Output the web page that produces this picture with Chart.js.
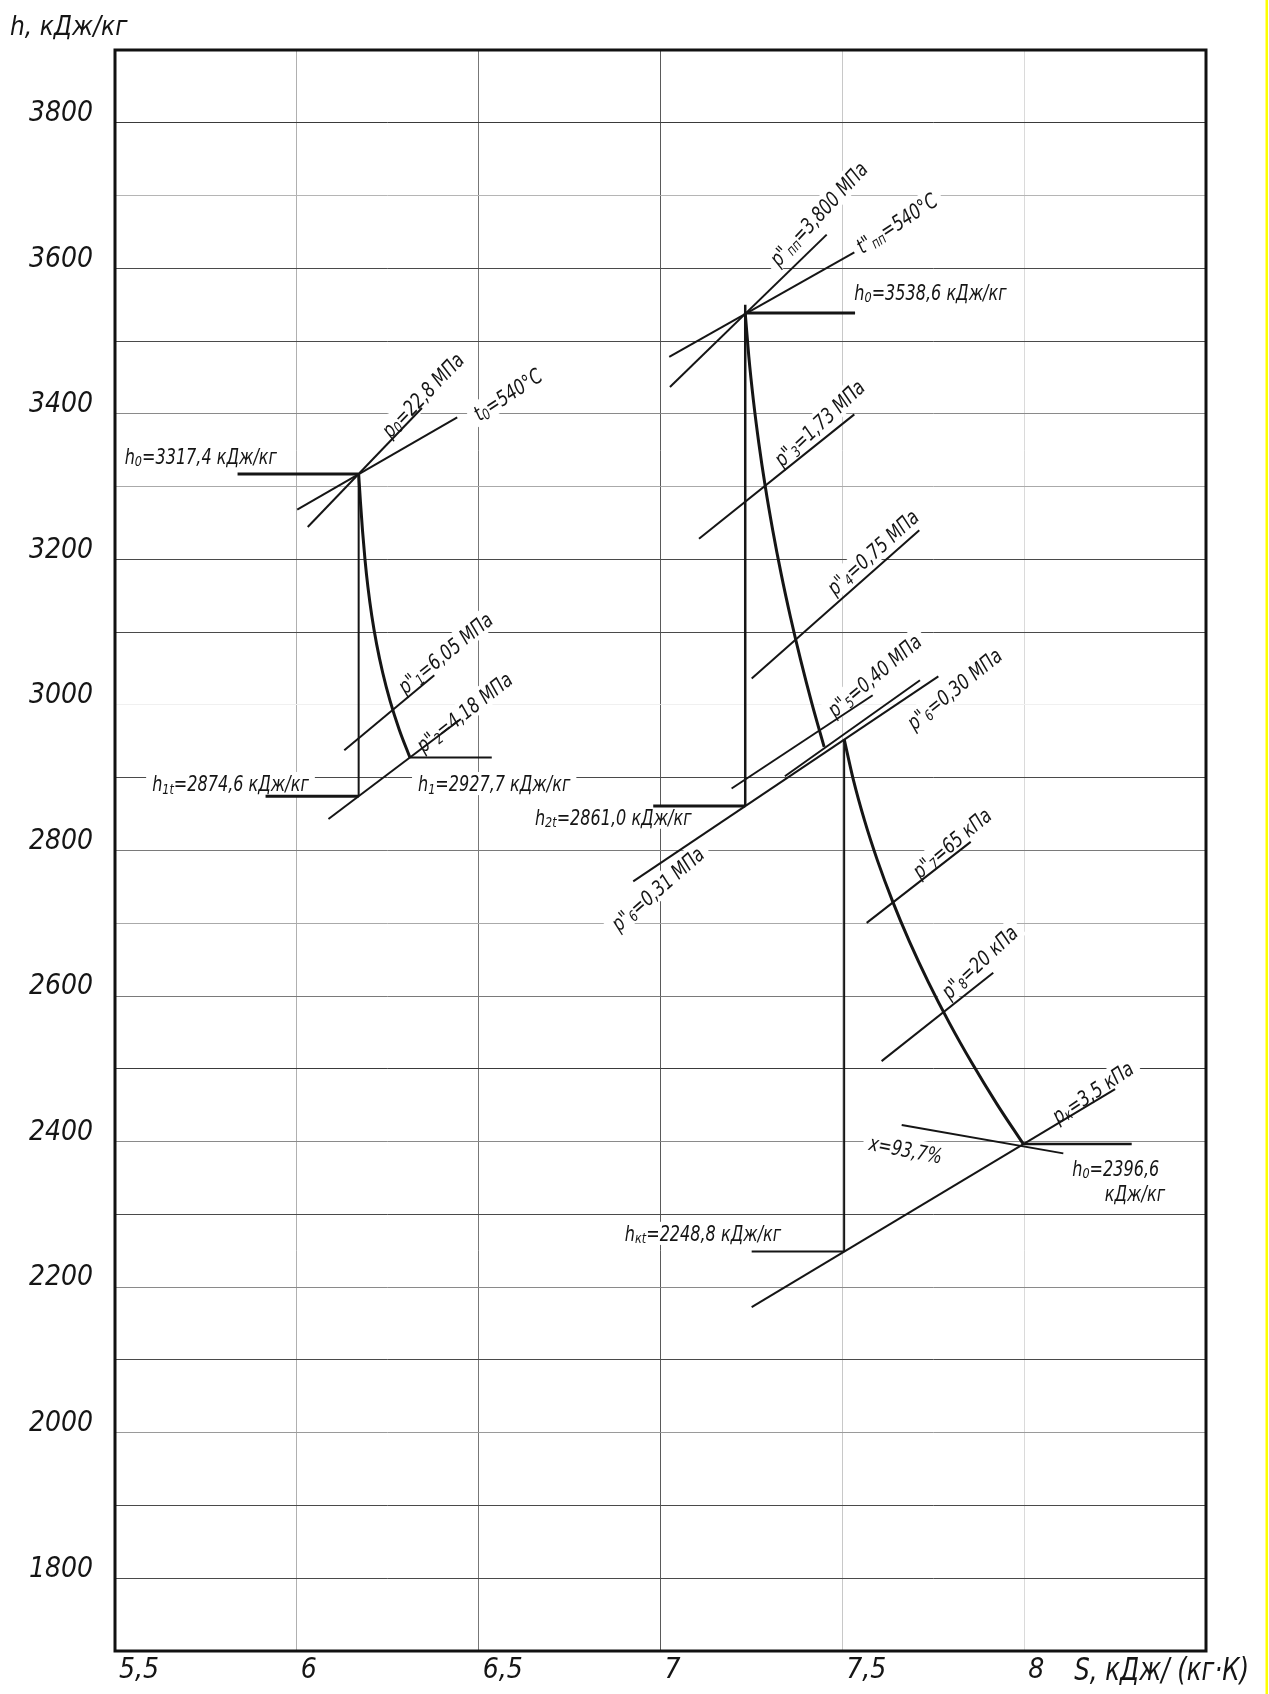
<!DOCTYPE html>
<html lang="ru">
<head>
<meta charset="utf-8">
<title>h,s-диаграмма процесса расширения пара в турбине</title>
<script src="https://cdn.jsdelivr.net/npm/chart.js@4.4.1/dist/chart.umd.min.js"></script>
<style>
  html, body { margin: 0; padding: 0; background: #fff; }
  canvas { display: block; }
</style>
</head>
<body>
<canvas id="hs" width="1269" height="1694"></canvas>
<script>
// Axes: entropy S, kJ/(kg·K) and enthalpy h, kJ/kg
const sTicks = [5.5, 6, 6.5, 7, 7.5, 8];
const hGrid = [1700, 1800, 1900, 2000, 2100, 2200, 2300, 2400, 2500, 2600, 2700,
               2800, 2900, 3000, 3100, 3200, 3300, 3400, 3500, 3600, 3700, 3800];
const hLabels = [1800, 2000, 2200, 2400, 2600, 2800, 3000, 3200, 3400, 3600, 3800];

// HP cylinder: [s, h]
const hpInletH    = [[5.837, 3317.4], [6.17, 3317.4]];
const hpP0        = [[6.03, 3244.6], [6.344, 3408.0]];
const hpT0        = [[6.001, 3268.4], [6.441, 3395.3]];
const hpIsentrope = [[6.17, 3317.4], [6.17, 2874.6]];
const hpTheorH    = [[5.914, 2874.6], [6.17, 2874.6]];
const hpProcess   = [[6.17, 3317.4], [6.175, 3278.4], [6.1806, 3239.5], [6.1873, 3200.5],
                     [6.1956, 3161.5], [6.2061, 3122.6], [6.2194, 3083.6], [6.236, 3044.6],
                     [6.2564, 3005.6], [6.2812, 2966.7], [6.311, 2927.7]];
const hpOutletH   = [[6.311, 2927.7], [6.536, 2927.7]];
const hpP1        = [[6.1305, 2937.8], [6.378, 3040.8]];
const hpP2        = [[6.087, 2843.2], [6.451, 2980.6]];

// IP/LP cylinders after reheat
const rhInletH    = [[7.233, 3538.6], [7.535, 3538.6]];
const rhP         = [[7.026, 3437.0], [7.457, 3646.3]];
const rhT         = [[7.024, 3478.2], [7.533, 3622.0]];
const ipIsentrope = [[7.233, 3550.0], [7.233, 2861.0]];
const ipTheorH    = [[6.980, 2861.0], [7.233, 2861.0]];
const ipP3        = [[7.1059, 3228.3], [7.5329, 3399.3]];
const ipP4        = [[7.2508, 3036.3], [7.7116, 3240.0]];
const ipP5        = [[7.1955, 2885.2], [7.5835, 3013.3]];
const ipP6        = [[7.342, 2902.1], [7.7135, 3033.9]];
const ipP6t       = [[6.925, 2757.6], [7.764, 3039.2]];
const ipProcess   = [[7.233, 3538.6], [7.2428, 3479.0], [7.2553, 3419.3], [7.2704, 3359.7],
                     [7.2881, 3300.1], [7.3085, 3240.5], [7.3315, 3180.8], [7.3572, 3121.2],
                     [7.3855, 3061.6], [7.4164, 3001.9], [7.45, 2942.3]];
const lpProcess   = [[7.505, 2953.0], [7.5302, 2897.4], [7.5608, 2841.7], [7.5967, 2786.1],
                     [7.638, 2730.4], [7.6846, 2674.8], [7.7365, 2619.2], [7.7938, 2563.5],
                     [7.8564, 2507.9], [7.9243, 2452.2], [7.9976, 2396.6]];
const lpIsentrope = [[7.505, 2953.0], [7.505, 2248.8]];
const lpP7        = [[7.567, 2700.5], [7.853, 2811.8]];
const lpP8        = [[7.608, 2510.6], [7.915, 2631.9]];
const condP       = [[7.2507, 2172.5], [8.25, 2472.2]];
const dryness     = [[7.6632, 2422.7], [8.1076, 2383.8]];
const condH       = [[7.9976, 2396.6], [8.2957, 2396.6]];
const condTheorH  = [[7.2507, 2248.8], [7.505, 2248.8]];

// Notes: text parts ([text, isSubscript]), anchor [s, h], rotation in degrees
const notes = [
  { parts: [['h', 0], ['0', 1], ['=3317,4 кДж/кг', 0]], at: [5.736, 3341.6], angle: 0 },
  { parts: [['p', 0], ['0', 1], ['=22,8 МПа', 0]], at: [6.3455, 3426.1], angle: -46 },
  { parts: [['t', 0], ['0', 1], ['=540°C', 0]], at: [6.5793, 3426.9], angle: -33 },
  { parts: [['p"', 0], ['1', 1], ['=6,05 МПа', 0]], at: [6.4074, 3071.7], angle: -39 },
  { parts: [['p"', 0], ['2', 1], ['=4,18 МПа', 0]], at: [6.4602, 2990.4], angle: -38 },
  { parts: [['h', 0], ['1t', 1], ['=2874,6 кДж/кг', 0]], at: [5.8176, 2892], angle: 0 },
  { parts: [['h', 0], ['1', 1], ['=2927,7 кДж/кг', 0]], at: [6.5427, 2892], angle: 0 },
  { parts: [['p"', 0], ['пп', 1], ['=3,800 МПа', 0]], at: [7.434, 3675], angle: -47 },
  { parts: [['t"', 0], ['пп', 1], ['=540°C', 0]], at: [7.6494, 3662.4], angle: -33 },
  { parts: [['h', 0], ['0', 1], ['=3538,6 кДж/кг', 0]], at: [7.7424, 3567.3], angle: 0 },
  { parts: [['p"', 0], ['3', 1], ['=1,73 МПа', 0]], at: [7.4363, 3387.6], angle: -43 },
  { parts: [['p"', 0], ['4', 1], ['=0,75 МПа', 0]], at: [7.583, 3210.2], angle: -42 },
  { parts: [['p"', 0], ['5', 1], ['=0,40 МПа', 0]], at: [7.5876, 3040.8], angle: -40 },
  { parts: [['p"', 0], ['6', 1], ['=0,30 МПа', 0]], at: [7.8076, 3022.4], angle: -39 },
  { parts: [['h', 0], ['2t', 1], ['=2861,0 кДж/кг', 0]], at: [6.8702, 2845.7], angle: 0 },
  { parts: [['p"', 0], ['6', 1], ['=0,31 МПа', 0]], at: [6.9917, 2747.7], angle: -41 },
  { parts: [['p"', 0], ['7', 1], ['=65 кПа', 0]], at: [7.8007, 2810.7], angle: -40 },
  { parts: [['p"', 0], ['8', 1], ['=20 кПа', 0]], at: [7.8764, 2647], angle: -43 },
  { parts: [['p', 0], ['к', 1], ['=3,5 кПа', 0]], at: [8.1879, 2468.4], angle: -34 },
  { parts: [['x=93,7%', 0]], at: [7.6745, 2389.4], angle: 11 },
  { parts: [['h', 0], ['0', 1], ['=2396,6', 0]], at: [8.2519, 2363.2], angle: 0 },
  { parts: [['кДж/кг', 0]], at: [8.3047, 2328.9], angle: 0 },
  { parts: [['h', 0], ['кt', 1], ['=2248,8 кДж/кг', 0]], at: [7.1169, 2273.9], angle: 0 },
];

const FONT = '"Liberation Sans Narrow", "DejaVu Sans Condensed", "Liberation Sans", sans-serif';
const NOTE_SIZE = 21;
const NARROW = 0.85;   // horizontal squeeze for drafting-style lettering
const INK = '#151515';

// grid line shades
const hShade = {
  3800: '#3a3a3a', 3700: '#b5b5b5', 3600: '#4a4a4a', 3500: '#4a4a4a', 3400: '#8a8a8a',
  3300: '#aaaaaa', 3200: '#4a4a4a', 3100: '#4a4a4a', 3000: '#f0f0f0', 2900: '#4a4a4a',
  2800: '#7a7a7a', 2700: '#aaaaaa', 2600: '#7a7a7a', 2500: '#3a3a3a', 2400: '#8a8a8a',
  2300: '#4a4a4a', 2200: '#8a8a8a', 2100: '#4a4a4a', 2000: '#9a9a9a', 1900: '#4a4a4a',
  1800: '#4a4a4a', 1700: '#6a6a6a'
};
const sShade = { 5.5: '#000000', 6: '#b0b0b0', 6.5: '#777777', 7: '#5a5a5a', 7.5: '#c8c8c8', 8: '#dadada' };

const toXY = (arr) => arr.map(([s, h]) => ({ x: s, y: h }));

function seg(data, width, curve) {
  return {
    data: toXY(data),
    showLine: true,
    borderColor: INK,
    borderWidth: width,
    pointRadius: 0,
    cubicInterpolationMode: curve ? 'monotone' : 'default',
    tension: 0,
    borderCapStyle: 'butt',
  };
}

const datasets = [
  seg(hpInletH, 3), seg(hpP0, 2), seg(hpT0, 2), seg(hpIsentrope, 2), seg(hpTheorH, 3),
  seg(hpProcess, 3, true), seg(hpOutletH, 2), seg(hpP1, 2), seg(hpP2, 2),
  seg(rhInletH, 3), seg(rhP, 2), seg(rhT, 2), seg(ipIsentrope, 2.5), seg(ipTheorH, 3),
  seg(ipP3, 2), seg(ipP4, 2), seg(ipP5, 2), seg(ipP6, 2), seg(ipP6t, 2),
  seg(ipProcess, 3, true), seg(lpProcess, 3, true), seg(lpIsentrope, 2),
  seg(lpP7, 2), seg(lpP8, 2), seg(condP, 2), seg(dryness, 2), seg(condH, 2.5), seg(condTheorH, 2),
];

function font(size) { return `italic ${size}px ${FONT}`; }

function richWidth(ctx, parts, size) {
  let w = 0;
  for (const [t, sub] of parts) {
    ctx.font = font(sub ? size * 0.7 : size);
    w += ctx.measureText(t).width;
  }
  return w;
}

function drawRich(ctx, parts, size, x0, y0) {
  let x = x0;
  for (const [t, sub] of parts) {
    ctx.font = font(sub ? size * 0.7 : size);
    ctx.fillText(t, x, y0 + (sub ? size * 0.12 : 0));
    x += ctx.measureText(t).width;
  }
}

function narrowText(ctx, text, size, x, y, squeeze) {
  ctx.save();
  ctx.translate(x, y);
  ctx.scale(squeeze, 1);
  ctx.font = font(size);
  ctx.fillText(text, 0, 0);
  ctx.restore();
}

const notesPlugin = {
  id: 'notes',
  beforeDraw(chart) {
    const { ctx, width, height } = chart;
    ctx.save();
    ctx.fillStyle = '#fff';
    ctx.fillRect(0, 0, width, height);
    ctx.restore();
  },
  // white backing knocks the grid out under each note
  beforeDatasetsDraw(chart) {
    const { ctx, scales: { x, y } } = chart;
    ctx.save();
    ctx.fillStyle = '#fff';
    for (const n of notes) {
      const w = richWidth(ctx, n.parts, NOTE_SIZE) * NARROW;
      ctx.save();
      ctx.translate(x.getPixelForValue(n.at[0]), y.getPixelForValue(n.at[1]));
      ctx.rotate(n.angle * Math.PI / 180);
      ctx.fillRect(-w / 2 - 6, -NOTE_SIZE * 0.55, w + 12, NOTE_SIZE * 1.1);
      ctx.restore();
    }
    ctx.restore();
  },
  afterDatasetsDraw(chart) {
    const { ctx, scales: { x, y } } = chart;
    ctx.save();
    ctx.fillStyle = INK;
    ctx.textAlign = 'left';
    ctx.textBaseline = 'alphabetic';
    for (const n of notes) {
      const w = richWidth(ctx, n.parts, NOTE_SIZE);
      ctx.save();
      ctx.translate(x.getPixelForValue(n.at[0]), y.getPixelForValue(n.at[1]));
      ctx.rotate(n.angle * Math.PI / 180);
      ctx.scale(NARROW, 1);
      drawRich(ctx, n.parts, NOTE_SIZE, -w / 2, NOTE_SIZE * 0.36);
      ctx.restore();
    }
    ctx.restore();
  },
  afterDraw(chart) {
    const { ctx, chartArea: a, scales: { x } } = chart;
    ctx.save();
    // drawing frame
    ctx.strokeStyle = '#111';
    ctx.lineWidth = 3;
    ctx.strokeRect(a.left, a.top, a.right - a.left, a.bottom - a.top);
    // axis titles
    ctx.fillStyle = INK;
    ctx.textBaseline = 'middle';
    ctx.textAlign = 'left';
    narrowText(ctx, 'h, кДж/кг', 26, 10, 28, 1);
    narrowText(ctx, 'S, кДж/ (кг·К)', 32, x.getPixelForValue(8) + 50, a.bottom + 21, NARROW);
    // sheet edge
    ctx.fillStyle = '#ffff00';
    ctx.fillRect(1265.5, 0, 2.5, chart.height);
    ctx.restore();
  }
};

new Chart(document.getElementById('hs'), {
  type: 'scatter',
  data: { datasets },
  options: {
    responsive: false,
    animation: false,
    events: [],
    devicePixelRatio: 1,
    layout: { padding: { top: 50, right: 63, left: 0, bottom: 0 } },
    plugins: { legend: { display: false }, tooltip: { enabled: false } },
    scales: {
      x: {
        type: 'linear',
        min: 5.5,
        max: 8.5,
        afterBuildTicks: (scale) => { scale.ticks = sTicks.map((v) => ({ value: v })); },
        afterFit: (scale) => { scale.height = 43; },
        border: { display: false },
        grid: { color: (c) => sShade[c.tick.value] || '#bbbbbb', lineWidth: 1, drawTicks: false },
        ticks: {
          align: 'start',
          labelOffset: 4,
          padding: 3,
          color: INK,
          font: { family: FONT, size: 28, style: 'italic' },
          callback: (v) => String(v).replace('.', ','),
        },
      },
      y: {
        type: 'linear',
        min: 1700,
        max: 3900,
        afterBuildTicks: (scale) => { scale.ticks = hGrid.map((v) => ({ value: v })); },
        afterFit: (scale) => { scale.width = 115; },
        border: { display: false },
        grid: { color: (c) => hShade[c.tick.value] || '#666666', lineWidth: 1, drawTicks: false },
        ticks: {
          padding: 22,
          labelOffset: -9,
          color: INK,
          font: { family: FONT, size: 28, style: 'italic' },
          callback: (v) => (hLabels.includes(v) ? String(v) : ''),
        },
      },
    },
  },
  plugins: [notesPlugin],
});
</script>
</body>
</html>
